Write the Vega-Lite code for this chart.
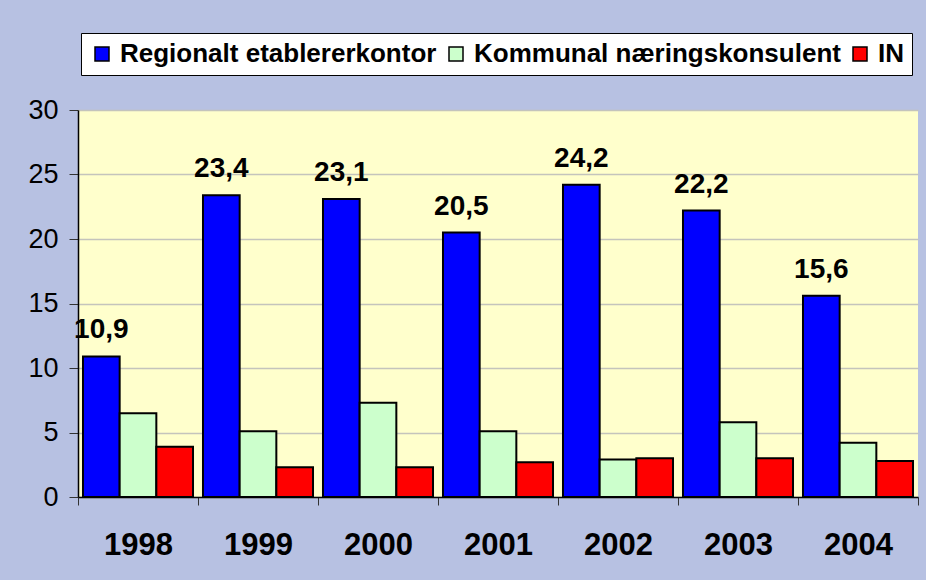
{
  "$schema": "https://vega.github.io/schema/vega-lite/v6.json",
  "autosize": {"type": "none"},
  "width": 840,
  "height": 387,
  "padding": {"left": 78, "top": 110, "right": 8, "bottom": 83},
  "background": "#b7c1e2",
  "data": {
    "values": [
      {"year": "1998", "serie": "Regionalt etablererkontor", "value": 10.9},
      {"year": "1998", "serie": "Kommunal næringskonsulent", "value": 6.5},
      {"year": "1998", "serie": "IN", "value": 3.9},
      {"year": "1999", "serie": "Regionalt etablererkontor", "value": 23.4},
      {"year": "1999", "serie": "Kommunal næringskonsulent", "value": 5.1},
      {"year": "1999", "serie": "IN", "value": 2.3},
      {"year": "2000", "serie": "Regionalt etablererkontor", "value": 23.1},
      {"year": "2000", "serie": "Kommunal næringskonsulent", "value": 7.3},
      {"year": "2000", "serie": "IN", "value": 2.3},
      {"year": "2001", "serie": "Regionalt etablererkontor", "value": 20.5},
      {"year": "2001", "serie": "Kommunal næringskonsulent", "value": 5.1},
      {"year": "2001", "serie": "IN", "value": 2.7},
      {"year": "2002", "serie": "Regionalt etablererkontor", "value": 24.2},
      {"year": "2002", "serie": "Kommunal næringskonsulent", "value": 2.9},
      {"year": "2002", "serie": "IN", "value": 3.0},
      {"year": "2003", "serie": "Regionalt etablererkontor", "value": 22.2},
      {"year": "2003", "serie": "Kommunal næringskonsulent", "value": 5.8},
      {"year": "2003", "serie": "IN", "value": 3.0},
      {"year": "2004", "serie": "Regionalt etablererkontor", "value": 15.6},
      {"year": "2004", "serie": "Kommunal næringskonsulent", "value": 4.2},
      {"year": "2004", "serie": "IN", "value": 2.8}
    ]
  },
  "encoding": {
    "x": {
      "field": "year",
      "type": "nominal",
      "scale": {"paddingInner": 0, "paddingOuter": 0},
      "axis": {
        "title": null,
        "labelAngle": 0,
        "labelFont": "Liberation Sans",
        "labelFontSize": 31,
        "labelFontWeight": "bold",
        "labelColor": "#000000",
        "labelPadding": 25,
        "tickBand": "extent",
        "tickSize": 8,
        "tickColor": "#333333",
        "domainColor": "#000000",
        "domainWidth": 1.5,
        "grid": false
      }
    },
    "xOffset": {
      "field": "serie",
      "type": "nominal",
      "sort": ["Regionalt etablererkontor", "Kommunal næringskonsulent", "IN"],
      "scale": {"paddingInner": 0, "paddingOuter": 0.136}
    },
    "y": {
      "field": "value",
      "type": "quantitative",
      "scale": {"domain": [0, 30]},
      "axis": {
        "title": null,
        "values": [0, 5, 10, 15, 20, 25, 30],
        "labelFont": "Liberation Sans",
        "labelFontSize": 27,
        "labelColor": "#000000",
        "labelPadding": 11,
        "tickSize": 9,
        "tickColor": "#333333",
        "domainColor": "#000000",
        "domainWidth": 1.5,
        "gridColor": "#c4c4bc",
        "gridWidth": 1.5
      }
    }
  },
  "layer": [
    {
      "mark": {"type": "bar", "stroke": "#000000", "strokeWidth": 2},
      "encoding": {
        "color": {
          "field": "serie",
          "type": "nominal",
          "scale": {
            "domain": ["Regionalt etablererkontor", "Kommunal næringskonsulent", "IN"],
            "range": ["#0000ff", "#ccffcc", "#ff0000"]
          },
          "legend": {
            "title": null,
            "orient": "none",
            "legendX": 3,
            "legendY": -77,
            "direction": "horizontal",
            "fillColor": "#ffffff",
            "strokeColor": "#000000",
            "padding": 8,
            "symbolType": "square",
            "symbolSize": 196,
            "symbolStrokeColor": "#000000",
            "symbolStrokeWidth": 1.5,
            "symbolOpacity": 1,
            "labelFont": "Liberation Sans",
            "labelFontSize": 26,
            "labelFontWeight": "bold",
            "labelColor": "#000000",
            "labelOffset": 5,
            "columnPadding": 6,
            "labelLimit": 500
          }
        }
      }
    },
    {
      "transform": [{"filter": "datum.serie === 'Regionalt etablererkontor'"}],
      "mark": {
        "type": "text",
        "font": "Liberation Sans",
        "fontSize": 28,
        "fontWeight": "bold",
        "color": "#000000",
        "baseline": "alphabetic",
        "dy": -18
      },
      "encoding": {
        "text": {"field": "value", "type": "quantitative", "format": ".1f"}
      }
    }
  ],
  "config": {
    "view": {"fill": "#ffffcc", "stroke": null},
    "locale": {
      "number": {"decimal": ",", "thousands": " ", "grouping": [3], "currency": ["", " kr"]}
    }
  }
}
